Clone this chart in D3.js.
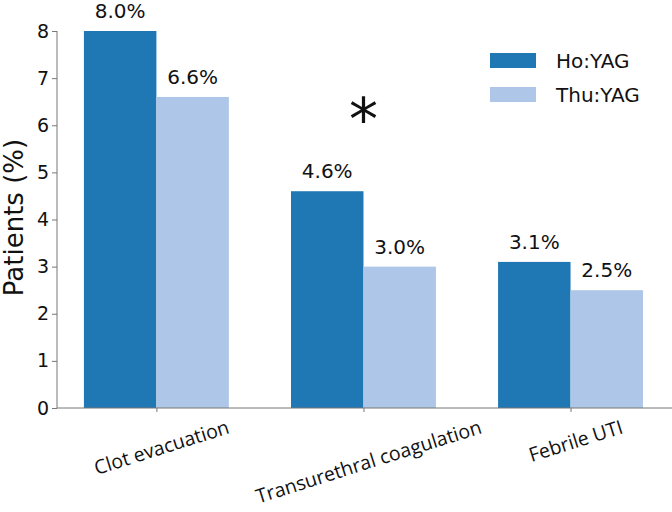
<!DOCTYPE html>
<html>
<head>
<meta charset="utf-8">
<script src="https://cdn.jsdelivr.net/npm/d3@7"></script>
<style>
  body { margin: 0; background: #fff; }
  svg { display: block; }
</style>
</head>
<body>
<div id="chart"></div>
<script>
const categories = ["Clot evacuation", "Transurethral coagulation", "Febrile UTI"];
const seriesNames = ["Ho:YAG", "Thu:YAG"];
const hoValues = [8.0, 4.6, 3.1];
const thuValues = [6.6, 3.0, 2.5];
const yTicks = [0, 1, 2, 3, 4, 5, 6, 7, 8];
const significant = [1]; // category index marked with *

const width = 672, height = 512;
const colors = ["#1f77b4", "#aec7e8"];
const barW = 0.35;

const svg = d3.select("#chart").append("svg")
  .attr("width", width)
  .attr("height", height)
  .style("font-family", "'DejaVu Sans', sans-serif");

const x = d3.scaleLinear().domain([-0.48, 2.49]).range([57, 672]);
const y = d3.scaleLinear().domain([0, 8]).range([408, 31]);

// bars + value labels
const series = [hoValues, thuValues];
series.forEach((vals, s) => {
  svg.append("g").selectAll("rect")
    .data(vals)
    .join("rect")
      .attr("x", (d, i) => s === 0 ? x(i - barW) : x(i))
      .attr("width", x(barW) - x(0))
      .attr("y", d => y(d))
      .attr("height", d => y(0) - y(d))
      .attr("fill", colors[s]);

  svg.append("g").selectAll("text")
    .data(vals)
    .join("text")
      .attr("x", (d, i) => s === 0 ? x(i - barW / 2) : x(i + barW / 2))
      .attr("y", d => y(d) - 13)
      .attr("text-anchor", "middle")
      .attr("font-size", 20)
      .attr("fill", "#111")
      .text(d => d.toFixed(1) + "%");
});

// y axis
const yAxis = svg.append("g")
  .attr("transform", `translate(${x.range()[0]},0)`)
  .call(d3.axisLeft(y).tickValues(yTicks).tickSize(5).tickPadding(3).tickFormat(d3.format("d")));
yAxis.select(".domain").attr("stroke", "#777").attr("d", `M0,${y(8)}V${y(0)}`);
yAxis.selectAll(".tick line").attr("stroke", "#777");
yAxis.selectAll(".tick text")
  .attr("font-size", 19)
  .attr("font-family", "'DejaVu Sans', sans-serif")
  .attr("fill", "#111");

// x axis
const xAxis = svg.append("g")
  .attr("transform", `translate(0,${y(0)})`)
  .call(d3.axisBottom(x).tickValues([0, 1, 2]).tickSize(4).tickFormat(""));
xAxis.select(".domain").attr("stroke", "#777").attr("d", `M${x.range()[0]},0H${x.range()[1]}`);
xAxis.selectAll(".tick line").attr("stroke", "#777");

// rotated category labels, bbox centred on tick, top just under axis
const angle = -17.5;
const rad = Math.abs(angle) * Math.PI / 180;
svg.append("g").selectAll("text")
  .data(categories)
  .join("text")
    .attr("font-family", "'Open Sans', sans-serif")
    .attr("font-size", 19.5)
    .attr("fill", "#111")
    .attr("text-anchor", "middle")
    .attr("dominant-baseline", "central")
    .text(d => d)
    .each(function(d, i) {
      const bb = this.getBBox();
      const h = bb.height * 0.75;
      const rotH = bb.width * Math.sin(rad) + h * Math.cos(rad);
      const cx = x(i) + 5;
      const cy = y(0) + 8 + rotH / 2;
      d3.select(this)
        .attr("x", cx).attr("y", cy)
        .attr("transform", `rotate(${angle},${cx},${cy})`);
    });

// y title
svg.append("text")
  .attr("transform", `translate(23,${(y(0) + y(8)) / 2 - 2}) rotate(-90)`)
  .attr("text-anchor", "middle")
  .attr("font-size", 26)
  .attr("fill", "#111")
  .text("Patients (%)");

// significance mark
svg.append("g").selectAll("text")
  .data(significant)
  .join("text")
    .attr("x", d => x(d))
    .attr("y", y(6.35))
    .attr("text-anchor", "middle")
    .attr("font-size", 58)
    .attr("fill", "#111")
    .text("*")
    .each(function() {
      const bb = this.getBBox();
      const target = +d3.select(this).attr("y");
      const glyphMid = bb.y + bb.height * 0.33;
      d3.select(this).attr("y", target + (target - glyphMid));
    });

// legend
const legend = svg.append("g").attr("transform", "translate(490,53)");
seriesNames.forEach((name, s) => {
  const g = legend.append("g").attr("transform", `translate(0,${s * 34})`);
  g.append("rect").attr("width", 46).attr("height", 15).attr("fill", colors[s]);
  g.append("text")
    .attr("x", 66)
    .attr("y", 15)
    .attr("font-size", 20)
    .attr("fill", "#111")
    .text(name);
});
</script>
</body>
</html>
